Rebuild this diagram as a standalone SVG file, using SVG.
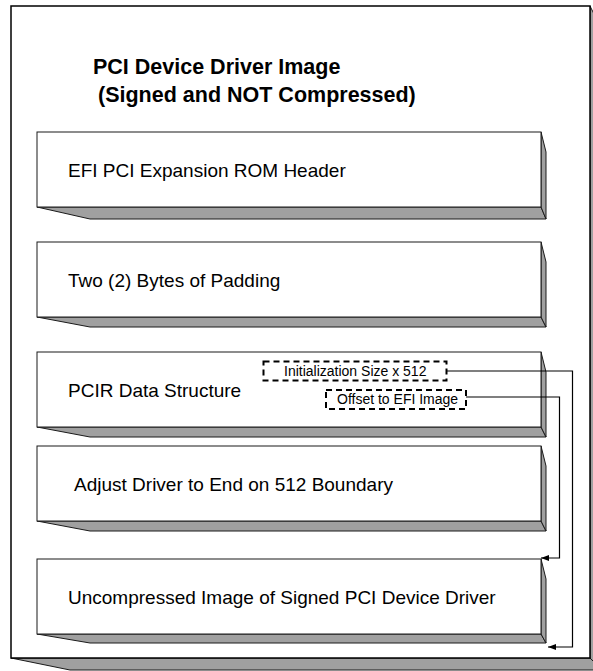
<svg xmlns="http://www.w3.org/2000/svg" width="593" height="671" viewBox="0 0 593 671">
<defs>
<style>
.face{fill:#ffffff;stroke:#1a1a1a;stroke-width:1}
.shade{fill:#a0a0a0;stroke:#1a1a1a;stroke-width:1;stroke-linejoin:miter}
.title{font-family:"Liberation Sans",Arial,sans-serif;font-weight:bold;font-size:21.5px;fill:#000}
.lbl{font-family:"Liberation Sans",Arial,sans-serif;font-size:19px;fill:#000}
.small{font-family:"Liberation Sans",Arial,sans-serif;font-size:14px;fill:#000}
.dash{fill:#ffffff;stroke:#000;stroke-width:2;stroke-dasharray:6 4}
.conn{fill:none;stroke:#000;stroke-width:1.2}
</style>
<marker id="arr" viewBox="0 0 8 6" refX="8" refY="3" markerWidth="8" markerHeight="6" markerUnits="userSpaceOnUse" orient="auto">
<path d="M0,0 L8,3 L0,6 z" fill="#000"/>
</marker>
</defs>
<rect width="593" height="671" fill="#ffffff"/>

<g id="outer">
<polygon class="shade" points="11,658 70,670 602,670 590,658"/>
<polygon class="shade" points="590,6 602,30 602,670 590,658"/>
<rect x="11" y="6" width="579" height="652" fill="#ffffff" stroke="#000" stroke-width="1.5"/>
<text class="title" x="93" y="74">PCI Device Driver Image</text>
<text class="title" x="98" y="102">(Signed and NOT Compressed)</text>
</g>

<g id="box-header">
<polygon class="shade" points="37,207 90,219 546,219 541,207"/>
<polygon class="shade" points="541,132 546,152 546,219 541,207"/>
<rect class="face" x="37" y="132" width="504" height="75"/>
<text class="lbl" x="68" y="177">EFI PCI Expansion ROM Header</text>
</g>

<g id="box-padding">
<polygon class="shade" points="37,317 90,327 546,327 541,317"/>
<polygon class="shade" points="541,242 546,262 546,327 541,317"/>
<rect class="face" x="37" y="242" width="504" height="75"/>
<text class="lbl" x="68" y="287">Two (2) Bytes of Padding</text>
</g>

<g id="box-pcir">
<polygon class="shade" points="37,427 90,437 546,437 541,427"/>
<polygon class="shade" points="541,352 546,372 546,437 541,427"/>
<rect class="face" x="37" y="352" width="504" height="75"/>
<text class="lbl" x="68" y="397">PCIR Data Structure</text>
</g>

<g id="label-initsize">
<rect class="dash" x="263.5" y="361.5" width="183" height="19"/>
<text class="small" x="284" y="375.5">Initialization Size x 512</text>
</g>

<g id="label-offset">
<rect class="dash" x="326" y="390" width="140" height="19"/>
<text class="small" x="337" y="404">Offset to EFI Image</text>
</g>

<g id="box-adjust">
<polygon class="shade" points="37,521 90,531 546,531 541,521"/>
<polygon class="shade" points="541,446 546,466 546,531 541,521"/>
<rect class="face" x="37" y="446" width="504" height="75"/>
<text class="lbl" x="74" y="491">Adjust Driver to End on 512 Boundary</text>
</g>

<g id="box-image">
<polygon class="shade" points="37,634 90,643 546,643 541,634"/>
<polygon class="shade" points="541,559 546,579 546,643 541,634"/>
<rect class="face" x="37" y="559" width="504" height="75"/>
<text class="lbl" x="68" y="604">Uncompressed Image of Signed PCI Device Driver</text>
</g>

<g id="connectors">
<path class="conn" d="M446.5,371 H572.5 V647 H548" marker-end="url(#arr)"/>
<path class="conn" d="M466,397 H559.5 V558 H541" marker-end="url(#arr)"/>
</g>
</svg>
